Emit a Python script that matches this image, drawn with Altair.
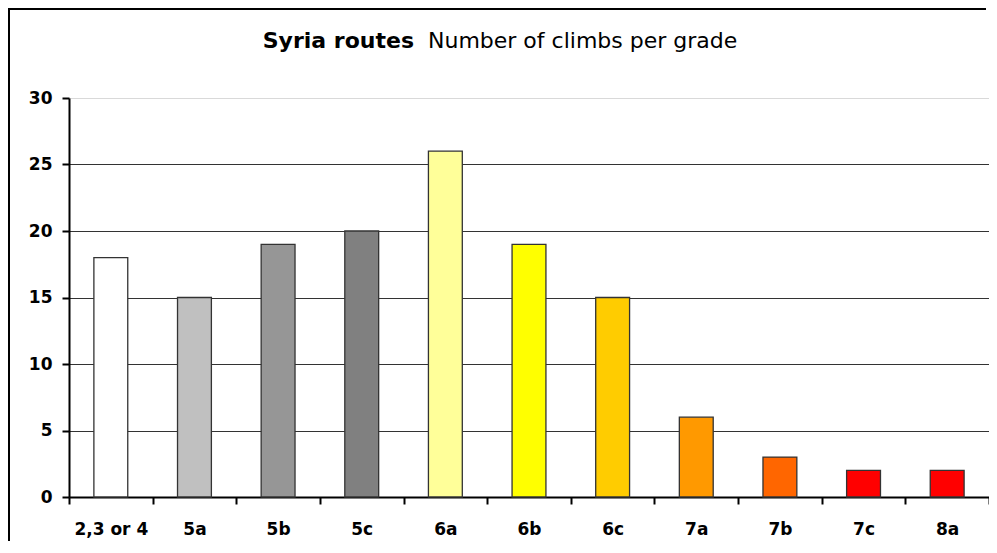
import altair as alt
import pandas as pd

grades = ["2,3 or 4", "5a", "5b", "5c", "6a", "6b", "6c", "7a", "7b", "7c", "8a"]
counts = [18, 15, 19, 20, 26, 19, 15, 6, 3, 2, 2]
colors = ["#FFFFFF", "#C0C0C0", "#969696", "#808080", "#FFFF99", "#FFFF00",
          "#FFCC00", "#FF9900", "#FF6600", "#FF0000", "#FF0000"]
title_bold = "Syria routes"
title_rest = "Number of climbs per grade"
y_ticks = [0, 5, 10, 15, 20, 25, 30]

df = pd.DataFrame({"grade": grades, "count": counts})
df_t = pd.DataFrame({"bold": [title_bold], "rest": [title_rest]})

FONT = "DejaVu Sans"

bars = alt.Chart(df).mark_bar(stroke="#333333", strokeWidth=1.3,
                              width=alt.RelativeBandSize(0.405)).encode(
    x=alt.X("grade:N", sort=grades,
            scale=alt.Scale(paddingInner=0, paddingOuter=0),
            axis=alt.Axis(title=None, labelAngle=0, tickBand="extent",
                          labelFont=FONT, labelFontSize=17, labelFontWeight="bold",
                          labelColor="black", labelPadding=17,
                          domainColor="black", domainWidth=2,
                          tickColor="black", tickWidth=2, tickSize=7, grid=False)),
    y=alt.Y("count:Q", scale=alt.Scale(domain=[0, 30], nice=False),
            axis=alt.Axis(title=None, values=y_ticks,
                          labelFont=FONT, labelFontSize=17, labelFontWeight="bold",
                          labelColor="black", labelPadding=10,
                          domainColor="black", domainWidth=2,
                          tickColor="black", tickWidth=2, tickSize=7,
                          grid=True, gridWidth=1,
                          gridColor=alt.condition("datum.value == 30",
                                                  alt.value("#d9d9d9"),
                                                  alt.value("#333333")))),
    color=alt.Color("grade:N", scale=alt.Scale(domain=grades, range=colors), legend=None),
)

frame_left = alt.Chart(df_t).mark_rule(stroke="black", strokeWidth=2).encode(
    x=alt.value(-60), y=alt.value(-90), y2=alt.value(450))
frame_top = alt.Chart(df_t).mark_rule(stroke="black", strokeWidth=2).encode(
    x=alt.value(-61), x2=alt.value(917), y=alt.value(-89))

t1 = alt.Chart(df_t).mark_text(align="right", baseline="alphabetic", font=FONT,
                               fontSize=22, fontWeight="bold", color="black").encode(
    text="bold:N", x=alt.value(345), y=alt.value(-50))
t2 = alt.Chart(df_t).mark_text(align="left", baseline="alphabetic", font=FONT,
                               fontSize=22, fontWeight="normal", color="black").encode(
    text="rest:N", x=alt.value(359), y=alt.value(-50))

chart = alt.layer(frame_left, frame_top, bars, t1, t2).properties(
    width=920, height=399,
    autosize=alt.AutoSizeParams(type="none"),
    padding={"left": 61, "top": 90, "right": 0, "bottom": 44},
    background="white",
).configure_view(stroke=None)

chart.save("out.html", embed_options={"renderer": "svg", "actions": False})
